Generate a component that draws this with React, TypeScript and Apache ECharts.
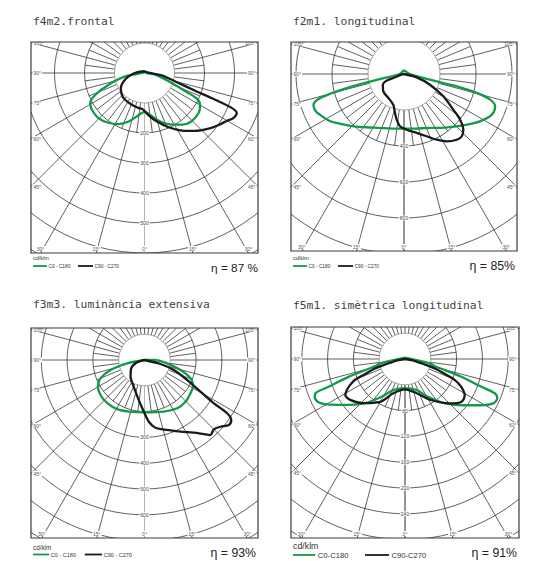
import React, { useEffect, useRef } from "react";
import * as echarts from "echarts";

type Pt = [number, number]; // [gamma in degrees (negative = left), intensity cd/klm]

const panelTitles = [
  "f4m2.frontal",
  "f2m1. longitudinal",
  "f3m3. lumin\u00e0ncia extensiva",
  "f5m1. sim\u00e8trica longitudinal",
];
const efficiencyLabels = ["\u03b7 = 87 %", "\u03b7 = 85%", "\u03b7 = 93%", "\u03b7 = 91%"];
const legendC0 = ["C0 - C180", "C0 - C180", "C0 - C180", "C0-C180"];
const legendC90 = ["C90 - C270", "C90 - C270", "C90 - C270", "C90-C270"];
const unitLabel = "cd/klm";

const rings1 = [100, 200, 300, 400, 500, 600, 700];
const rings2 = [200, 400, 600, 800, 1000, 1200];
const rings3 = [100, 200, 300, 400, 500, 600, 700, 800];
const rings4 = [40, 80, 120, 160, 200, 240, 280, 320];
const ringLabels1 = [200, 300, 400, 500];
const ringLabels2 = [400, 600, 800];
const ringLabels3 = [300, 400, 500, 600];
const ringLabels4 = [80, 120, 160, 200, 240];

const sideAngles = [105, 90, 75, 60, 45];
const bottomAngles = [-30, -15, 0, 15, 30];

const f4m2_C0_C180: Pt[] = [
  [180, 5], [-90, 6], [-80, 65], [-72, 126], [-66, 180], [-61, 207], [-55, 214], [-46, 215],
  [-36, 205], [-27, 191], [-18, 170], [-10, 147], [-4, 134], [0, 130], [6, 137], [15, 161],
  [25, 188], [36, 213], [44, 225], [54, 224], [60, 214], [64, 193], [66, 149], [71, 85],
  [81, 36], [90, 6], [180, 5],
];
const f4m2_C90_C270: Pt[] = [
  [170, 6], [-95, 26], [-78, 54], [-68, 75], [-58, 93], [-46, 105], [-36, 110], [-22, 114],
  [-10, 118], [-2, 122], [5, 140], [14, 166], [24, 198], [33, 229], [41, 256], [49, 283],
  [55, 302], [60, 318], [63, 332], [66.6, 335], [68.2, 313], [69.3, 252], [70.7, 179],
  [73.6, 118], [82.4, 58], [100, 10], [170, 6],
];
const f2m1_C0_C180: Pt[] = [
  [180, 22], [-90, 25], [-78, 150], [-76.5, 305], [-75, 425], [-73.5, 500], [-71, 532],
  [-67, 532], [-64, 518], [-58, 490], [-54, 463], [-45, 410], [-35, 361], [-25, 330],
  [-12, 310], [0, 304], [12, 310], [26, 333], [35, 365], [45, 412], [52, 455], [58, 497],
  [65, 537], [70.5, 537], [73.4, 499], [75.4, 417], [76.9, 301], [77.6, 148], [90, 33], [180, 22],
];
const f2m1_C90_C270: Pt[] = [
  [90, 0], [75, 73], [67.6, 156], [60.4, 251], [54.1, 338], [50.8, 402], [46.8, 452],
  [42.8, 472], [38.7, 468], [32.4, 443], [26.5, 408], [20, 368], [12.1, 335], [2.8, 310],
  [-4.4, 291], [-9.1, 257], [-13, 222], [-19.2, 181], [-33, 159], [-50, 150], [-63, 132],
  [-69, 103], [-70, 53], [-80, 12], [90, 0],
];
const f3m3_C0_C180: Pt[] = [
  [0, 0], [-79, 68], [-73.6, 137], [-67.4, 185], [-60.2, 208], [-51.5, 218], [-40.7, 221],
  [-29, 218], [-16.9, 209], [0, 203], [20.5, 214], [34.1, 226], [44.5, 227], [54.1, 220],
  [61.9, 214], [68.3, 192], [74.5, 145], [81.7, 89], [90, 36], [0, 0],
];
const f3m3_C90_C270: Pt[] = [
  [0, 0], [76, 64], [71.2, 120], [64.9, 183], [60.5, 249], [58, 317], [57.2, 381],
  [55.3, 409], [52.4, 413], [48.7, 392], [45, 380], [41.3, 387], [38.7, 368], [34.1, 340],
  [26.7, 311], [18, 285], [9.2, 266], [4, 240], [-0.8, 200], [-8.1, 157], [-21.8, 112],
  [-40, 84], [-58, 61], [-70, 37], [-76, 16], [0, 0],
];
const f5m1_C0_C180: Pt[] = [
  [180, 2], [-80, 39], [-76.7, 47], [-72.5, 91], [-70, 126], [-69, 149], [-67, 152],
  [-63.5, 150], [-58.7, 136], [-50.6, 112], [-42, 92], [-31.4, 68], [-20, 51], [0, 45],
  [20, 51], [31.4, 68.5], [41.9, 92], [50.6, 113], [58.7, 138], [63.3, 153], [66.9, 155.5],
  [69.1, 149], [70, 126], [72.5, 91.5], [76.7, 47], [80.2, 39], [180, 2],
];
const f5m1_C90_C270: Pt[] = [
  [90, 0], [80, 12], [75, 30], [72.6, 48], [69, 69], [67.1, 84], [64.7, 94], [62, 102],
  [59, 108], [53, 110], [45.4, 98], [31.4, 74], [18.8, 56], [0, 47], [-18.8, 56],
  [-30.3, 77], [-43.3, 94], [-53.3, 106], [-59, 108], [-62, 102], [-64.7, 94], [-67.3, 84.5],
  [-69, 69], [-72.6, 48], [-75, 30], [-80, 12], [90, 0],
];

const panelData = [
  { rings: rings1, ringLabels: ringLabels1, c0: f4m2_C0_C180, c90: f4m2_C90_C270 },
  { rings: rings2, ringLabels: ringLabels2, c0: f2m1_C0_C180, c90: f2m1_C90_C270 },
  { rings: rings3, ringLabels: ringLabels3, c0: f3m3_C0_C180, c90: f3m3_C90_C270 },
  { rings: rings4, ringLabels: ringLabels4, c0: f5m1_C0_C180, c90: f5m1_C90_C270 },
];

// layout (pixels) and scale (px per cd)
const layouts = [
  { left: 31, top: 42, width: 227, height: 211, cy: 31, k: 0.3, vline: "#b5b5b5",
    titleX: 33, titleY: 21, legY: 258, lineY: 266, legScale: 1, etaX: 258, etaY: 268, etaSize: 11.8 },
  { left: 291, top: 42, width: 226, height: 209, cy: 32, k: 0.18, vline: "#2b2b2b",
    titleX: 293, titleY: 21, legY: 258, lineY: 266, legScale: 1, etaX: 515, etaY: 266, etaSize: 12.3 },
  { left: 31, top: 328, width: 227, height: 210, cy: 32, k: 0.258, vline: "#b5b5b5",
    titleX: 33, titleY: 304, legY: 547, lineY: 554.5, legScale: 1.15, etaX: 256, etaY: 553, etaSize: 12.3 },
  { left: 291, top: 327, width: 228, height: 211, cy: 32, k: 0.645, vline: "#2b2b2b",
    titleX: 293, titleY: 305, legY: 546, lineY: 555, legScale: 1.6, etaX: 517, etaY: 553, etaSize: 12.3 },
];

const GRID = "#2b2b2b";
const GREEN = "#119a48";
const BLACK = "#1a1a1a";

const toXY = (pts: Pt[]) =>
  pts.map(([a, v]) => {
    const t = (a * Math.PI) / 180;
    return [v * Math.sin(t), -v * Math.cos(t)];
  });

function txt(x: number, y: number, text: string, size: number, fill: string, align: string, va: string, family: string, extra: any = {}) {
  return {
    type: "text",
    x,
    y,
    style: {
      text,
      fontSize: size,
      fontFamily: family,
      fill,
      align,
      textAlign: align,
      verticalAlign: va,
      textVerticalAlign: va,
      ...extra,
    },
  };
}

function makeGridRenderer(i: number) {
  const L = layouts[i];
  const P = panelData[i];
  const xHalf = L.width / 2 / L.k;
  const yMin = -(L.height - L.cy) / L.k;
  return (params: any, api: any) => {
    const c = api.coord([0, 0]);
    const k = api.size([1, 1])[0];
    const pt = (a: number, r: number) => {
      const t = (a * Math.PI) / 180;
      return api.coord([r * Math.sin(t), -r * Math.cos(t)]);
    };
    const ch: any[] = [];
    const inner = P.rings[0];
    const second = P.rings[1];
    const outer = P.rings[P.rings.length - 1] * 1.8;
    P.rings.slice(1).forEach((v) =>
      ch.push({
        type: "circle",
        shape: { cx: c[0], cy: c[1], r: v * k },
        style: { fill: "none", stroke: GRID, lineWidth: 0.75 },
      })
    );
    for (let a = -180; a < 180; a += 7.5) {
      const major = Math.abs(a % 15) < 1e-6;
      const p0 = pt(a, inner);
      const p1 = pt(a, major ? outer : second);
      ch.push({
        type: "line",
        shape: { x1: p0[0], y1: p0[1], x2: p1[0], y2: p1[1] },
        style: { stroke: a === 0 ? L.vline : GRID, lineWidth: a === 0 ? 1 : 0.75 },
      });
    }
    ch.push({
      type: "circle",
      shape: { cx: c[0], cy: c[1], r: inner * k },
      style: { fill: "#ffffff", stroke: "#8c8c8c", lineWidth: 0.8 },
    });
    P.ringLabels.forEach((v) => {
      const p = api.coord([0, -v]);
      ch.push(txt(p[0], p[1], String(v), 5, "#444", "center", "middle", "Liberation Sans",
        { backgroundColor: "#fff", padding: [0, 1] }));
    });
    sideAngles.forEach((a) => {
      const t = (a * Math.PI) / 180;
      const y = (-xHalf * Math.cos(t)) / Math.sin(t);
      const pl = api.coord([-xHalf, y]);
      const pr = api.coord([xHalf, y]);
      ch.push(txt(pl[0] + 1.5, pl[1], a + "\u00b0", 5, "#555", "left", "middle", "Liberation Sans",
        { backgroundColor: "#fff", padding: [0, 1] }));
      ch.push(txt(pr[0] - 1.5, pr[1], a + "\u00b0", 5, "#555", "right", "middle", "Liberation Sans",
        { backgroundColor: "#fff", padding: [0, 1] }));
    });
    bottomAngles.forEach((a) => {
      const t = (a * Math.PI) / 180;
      const x = -yMin * Math.tan(t);
      const p = api.coord([x, yMin]);
      ch.push(txt(p[0], p[1] - 4.5, Math.abs(a) + "\u00b0", 5, "#555", "center", "middle", "Liberation Sans",
        { backgroundColor: "#fff", padding: [0, 1] }));
    });
    return { type: "group", children: ch };
  };
}

export default function App() {
  const ref = useRef<HTMLDivElement>(null);
  useEffect(() => {
    document.body.style.margin = "0";
    if (!ref.current) return;
    const chart = echarts.init(ref.current, null, { renderer: "svg" });
    const grids: any[] = [];
    const xAxes: any[] = [];
    const yAxes: any[] = [];
    const series: any[] = [];
    const graphics: any[] = [];
    layouts.forEach((L, i) => {
      const xHalf = L.width / 2 / L.k;
      grids.push({ left: L.left, top: L.top, width: L.width, height: L.height, show: false, containLabel: false });
      xAxes.push({ type: "value", gridIndex: i, min: -xHalf, max: xHalf, show: false });
      yAxes.push({ type: "value", gridIndex: i, min: -(L.height - L.cy) / L.k, max: L.cy / L.k, show: false });
      series.push({
        type: "custom",
        xAxisIndex: i,
        yAxisIndex: i,
        data: [[0, 0]],
        renderItem: makeGridRenderer(i),
        clip: true,
        silent: true,
        z: 1,
      });
      series.push({
        type: "line",
        name: legendC0[i],
        xAxisIndex: i,
        yAxisIndex: i,
        data: toXY(panelData[i].c0),
        smooth: 0.3,
        showSymbol: false,
        clip: true,
        lineStyle: { color: GREEN, width: 2.3 },
        z: 3,
      });
      series.push({
        type: "line",
        name: legendC90[i],
        xAxisIndex: i,
        yAxisIndex: i,
        data: toXY(panelData[i].c90),
        smooth: 0.3,
        showSymbol: false,
        clip: true,
        lineStyle: { color: BLACK, width: 2.3 },
        z: 4,
      });
      // frame
      graphics.push({
        type: "rect",
        shape: { x: L.left, y: L.top, width: L.width, height: L.height },
        style: { fill: "none", stroke: "#3a3a3a", lineWidth: 1.2 },
        z: 100,
      });
      // title
      graphics.push({ ...txt(L.titleX, L.titleY, panelTitles[i], 11.3, "#444", "left", "middle", "DejaVu Sans Mono"), z: 100 });
      // legend
      const s = L.legScale;
      const x0 = L.left + 2;
      graphics.push({ ...txt(x0, L.legY, unitLabel, 5.5 * s, "#333", "left", "middle", "Liberation Sans"), z: 100 });
      graphics.push({
        type: "line",
        shape: { x1: x0, y1: L.lineY, x2: x0 + 14 * s, y2: L.lineY },
        style: { stroke: GREEN, lineWidth: 1.8 },
        z: 100,
      });
      graphics.push({ ...txt(x0 + 15.5 * s, L.lineY, legendC0[i], 4.8 * s, "#333", "left", "middle", "Liberation Sans"), z: 100 });
      graphics.push({
        type: "line",
        shape: { x1: x0 + 45 * s, y1: L.lineY, x2: x0 + 60 * s, y2: L.lineY },
        style: { stroke: BLACK, lineWidth: 1.8 },
        z: 100,
      });
      graphics.push({ ...txt(x0 + 61.5 * s, L.lineY, legendC90[i], 4.8 * s, "#333", "left", "middle", "Liberation Sans"), z: 100 });
      graphics.push({ ...txt(L.etaX, L.etaY, efficiencyLabels[i], L.etaSize, "#222", "right", "middle", "Liberation Sans"), z: 100 });
    });
    chart.setOption({
      animation: false,
      backgroundColor: "#ffffff",
      grid: grids,
      xAxis: xAxes,
      yAxis: yAxes,
      series,
      graphic: { elements: graphics },
    });
    return () => chart.dispose();
  }, []);
  return <div ref={ref} style={{ width: 537, height: 561 }} />;
}
